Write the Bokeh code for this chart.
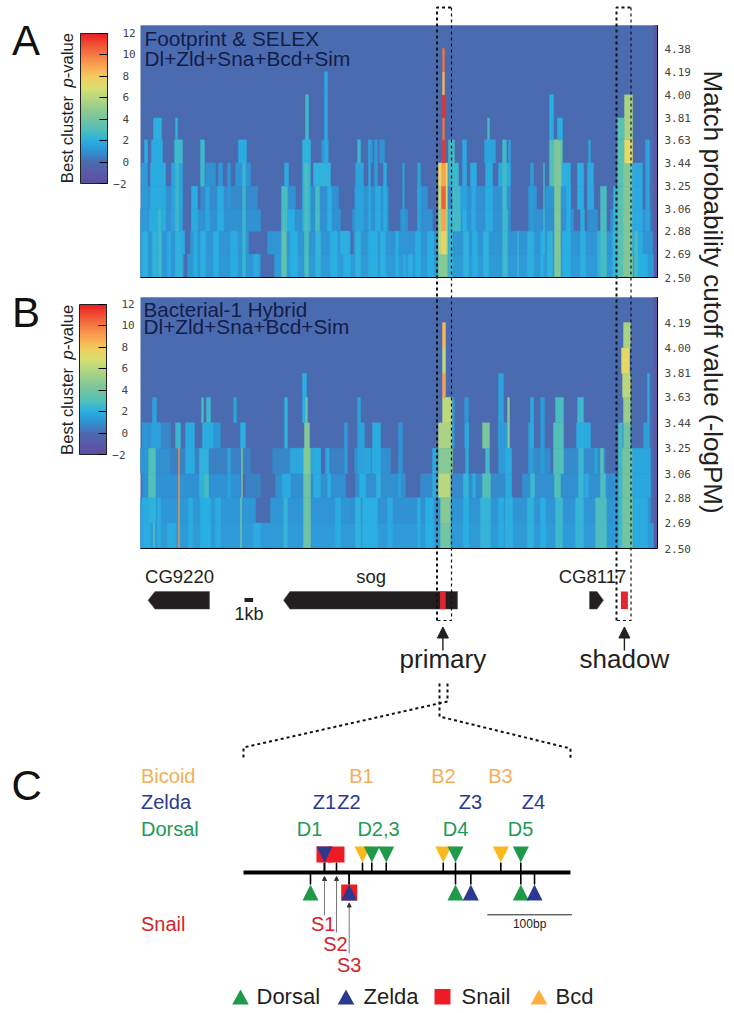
import numpy as np
from bokeh.plotting import figure
from bokeh.embed import file_html
from bokeh.resources import INLINE
from bokeh.core.properties import value
from bokeh.models import (Range1d, LinearColorMapper, ColorBar, FixedTicker, Arrow,
                          NormalHead, ColumnDataSource)

# ---------- data ----------
cutoff_ticks = [2.50, 2.69, 2.88, 3.06, 3.25, 3.44, 3.63, 3.81, 4.00, 4.19, 4.38]
cutoff_edges_a = cutoff_ticks + [4.57]
cutoff_edges_b = cutoff_ticks
score_ticks = [-2, 0, 2, 4, 6, 8, 10, 12]
score_stops = [-2, -1, 0, 1, 2, 3, 4, 5, 6, 7, 8, 9, 10, 11, 12]
score_colors = ["#5B4EA0", "#5A5BA8", "#4B6BB0", "#2F93D3", "#2AAFE3", "#52C0B8", "#74C4A0", "#94CC8E",
                "#B8D77F", "#DBE06E", "#F5C95E", "#F9A350", "#F47C43", "#F05033", "#ED1C24"]

# (start kb, end kb, lowest band, highest band, best cluster score)
a_washes = [
    (0, 4.3, 0, 0, 1.2), (4.7, 12, 0, 0, 1.2), (13.4, 51.3, 0, 0, 1.3),
    (0, 4.4, 1, 1, 1.2), (5, 10.8, 1, 1, 1.1), (12.7, 21, 1, 1, 1.1), (21.3, 51.2, 1, 1, 1.1),
    (0, 3.7, 2, 2, 1), (5.1, 12, 2, 2, 1), (14.1, 20, 2, 2, 1), (21.2, 24.8, 2, 2, 1), (26, 26.7, 2, 2, 1), (27.7, 29.2, 2, 2, 0.9),
    (29.7, 37, 2, 2, 1), (38.8, 43.3, 2, 2, 1), (44.7, 45.7, 2, 2, 0.9), (47, 51, 2, 2, 1),
    (0.2, 4.2, 3, 3, 0.9), (6, 11.7, 3, 3, 0.8), (14.7, 15.5, 3, 3, 1), (16.2, 19.8, 3, 3, 0.9), (21.4, 24.8, 3, 3, 1), (27.7, 28.7, 3, 3, 0.9),
    (30.8, 37, 3, 3, 1), (38.8, 39.6, 3, 3, 1.2), (40.5, 43, 3, 3, 1.2), (44.7, 45.3, 3, 3, 1.2),
]
a_stripes = [
    (0.2, 0.7, 0, 1, 2.1), (1.2, 1.7, 0, 1, 2.2), (1.8, 2.1, 0, 1, 2.6), (2.7, 3, 0, 1, 1.9), (3.5, 4.2, 0, 1, 2.2), (5.3, 5.7, 0, 1, 1.9),
    (6, 6.5, 0, 1, 2.1), (7.3, 7.8, 0, 1, 2), (9, 9.7, 0, 1, 1.9), (10.2, 10.5, 0, 1, 2.4), (11.3, 11.8, 0, 0, 1.8), (15, 15.7, 0, 1, 2),
    (17.5, 18, 0, 1, 2.3), (19, 19.7, 0, 1, 2), (20.3, 21, 0, 0, 2), (21.5, 22, 0, 1, 2.2), (22.8, 23, 0, 1, 2),
    (23, 23.7, 0, 1, 2), (24, 24.5, 0, 1, 2.1), (25.5, 25.8, 0, 1, 2), (26.3, 26.5, 0, 0, 1.9), (26.8, 27.2, 0, 0, 2), (27.5, 28, 0, 1, 2),
    (28.7, 29.3, 0, 1, 2), (32.3, 32.8, 0, 1, 2.2), (33.2, 33.7, 0, 1, 2), (34.3, 34.8, 0, 1, 2.2), (36.2, 36.7, 0, 2, 2.5), (37.7, 37.8, 0, 1, 2.4),
    (38.7, 39.3, 0, 1, 2.1), (40, 40.3, 0, 1, 2), (40.7, 41.2, 0, 1, 2.2), (42.2, 43, 0, 1, 2), (44, 44.5, 0, 1, 2.1), (45.7, 46.3, 0, 1, 2.2),
    (47.2, 47.7, 0, 1, 2.2), (49.5, 50.7, 0, 0, 2),
]
a_peaks = [
    (0.1, 0.7, 2, 4, 1.3), (0.4, 0.7, 5, 5, 1.9), (0.9, 1.2, 2, 2, 2.1),
    (1, 2.5, 2, 4, 1.9), (1.1, 2.2, 5, 5, 1.9), (1.3, 2.1, 6, 6, 2.1), (1.8, 2.0, 2, 2, 2.6),
    (3.1, 4.2, 2, 4, 1.6), (3.4, 4.2, 5, 5, 2.5), (3.5, 3.7, 6, 6, 2.2), (3.5, 3.8, 2, 4, 2.5), (4.1, 4.4, 1, 1, 1.9),
    (5.1, 5.7, 2, 3, 1.9), (6.5, 6.9, 2, 3, 1.7),
    (6, 6.4, 4, 5, 2.5), (6.5, 7.5, 4, 4, 1), (7.8, 8.2, 4, 4, 1.2), (7.7, 8.3, 2, 3, 1.9),
    (8.7, 9, 3, 4, 1.2), (9.5, 11, 4, 4, 1.1), (9.8, 10.6, 5, 5, 1.9), (10.2, 10.5, 2, 4, 2.4),
    (14.1, 14.7, 2, 3, 2.8), (14.1, 14.6, 0, 1, 3.4), (14.4, 14.8, 4, 4, 1.8), (14.7, 15.4, 2, 2, 1.9),
    (16.2, 17, 2, 5, 2.2), (16.5, 16.8, 6, 7, 2.6), (16.4, 16.8, 0, 4, 2.9),
    (17.3, 19, 4, 4, 2.2), (17.5, 17.9, 2, 3, 2.9), (18.1, 18.8, 5, 5, 1.1), (18.4, 18.7, 5, 8, 1.8), (18.7, 19.1, 2, 3, 2),
    (20, 20.9, 1, 1, 2.1), (21.5, 22.3, 2, 4, 1.6), (21.7, 22, 5, 5, 2.4), (22.8, 23, 2, 5, 1.8),
    (23, 23.2, 5, 5, 1.2), (23.4, 23.7, 4, 5, 1.3), (23.9, 24.4, 5, 5, 1), (24.3, 24.6, 2, 4, 1.9), (23.5, 24, 2, 3, 1.9),
    (26.2, 26.4, 2, 4, 1.3), (27.7, 28, 2, 4, 1.6),
    (29.8, 30.7, 4, 4, 7.4), (29.8, 30.7, 3, 3, 6.3), (29.8, 30.7, 2, 2, 5.6), (29.8, 30.7, 1, 1, 6), (29.8, 30.7, 0, 0, 4.6),
    (30.1, 30.5, 3, 3, 10.6), (30.1, 30.5, 2, 2, 9), (30.1, 30.5, 4, 4, 9), (30.1, 30.5, 1, 1, 7.6),
    (30.2, 30.5, 5, 5, 11.5), (30.2, 30.4, 6, 6, 10.2), (30.2, 30.5, 7, 7, 11.6), (30.2, 30.4, 8, 8, 8.6), (30.2, 30.4, 9, 9, 10.2),
    (30.8, 31.4, 5, 5, 2.7), (30.8, 31.8, 4, 4, 2.5), (31.2, 32, 2, 3, 2.7), (30.8, 31.2, 0, 2, 2.5),
    (32.2, 32.6, 4, 5, 1.8), (32, 32.6, 3, 3, 1.6), (32.2, 32.6, 2, 2, 2), (33, 33.6, 4, 4, 1.9), (33.1, 33.5, 2, 3, 1.8),
    (34.4, 35.5, 5, 5, 1.6), (34.5, 35.2, 2, 4, 1.9), (34.7, 34.9, 6, 6, 2.7),
    (35.8, 37, 4, 4, 1.9), (36.2, 36.6, 3, 5, 2.6), (36.8, 37, 5, 5, 1.5),
    (39, 39.3, 2, 4, 1.3), (40.3, 40.4, 1, 4, 2.5),
    (40.9, 42.2, 4, 5, 3), (41.4, 42, 0, 5, 4.4), (40.9, 41.3, 6, 7, 2), (41.7, 42.2, 6, 6, 2), (42.2, 43, 4, 4, 2), (42.6, 43, 2, 3, 2),
    (43.7, 44.3, 3, 4, 2), (44, 44.4, 2, 2, 1.9), (44.8, 45, 5, 5, 1.6), (44.7, 45.3, 3, 4, 1.8),
    (46, 46.6, 0, 3, 2.8), (47.3, 47.7, 0, 3, 2.3),
    (47.7, 48.4, 0, 6, 3.2), (48.3, 49.2, 0, 4, 4.4), (48.4, 49.2, 5, 5, 7.2), (48.4, 49.2, 6, 7, 5.6),
    (49.2, 50.2, 1, 4, 1.8), (49.4, 49.7, 0, 1, 2.8), (50.5, 50.9, 2, 5, 1.6),
]

b_washes = [
    (0, 51.3, 0, 0, 1.3), (0, 11.5, 1, 1, 1.2), (13, 21, 1, 1, 1.1), (21, 30, 1, 1, 1), (30, 51, 1, 1, 1.1),
    (0.2, 10, 2, 2, 1), (10.5, 12, 2, 2, 0.6), (13.5, 20.5, 2, 2, 0.9), (21.5, 26.5, 2, 2, 0.9), (28, 37, 2, 2, 0.8), (38.2, 47, 2, 2, 0.9), (47, 51, 2, 2, 0.9),
    (0, 3, 3, 3, 0.9), (3, 11, 3, 3, 0.6), (13.2, 18, 3, 3, 0.7), (19, 20.5, 3, 3, 0.6), (21.4, 25, 3, 3, 0.9), (39, 41, 3, 3, 0.8), (42, 46.5, 3, 3, 0.8),
    (0.2, 2, 4, 4, 1), (2, 3, 4, 4, 0.7),
]
b_stripes = [
    (0.2, 1, 0, 1, 1.9), (1.3, 1.4, 0, 0, 3.4), (1.7, 2, 0, 1, 1.9), (2.7, 3.5, 0, 0, 1.9), (4.8, 5.2, 0, 1, 1.9), (6, 7, 0, 1, 2), (7.5, 8, 0, 1, 1.9),
    (10, 10.1, 0, 1, 4), (11.3, 12, 0, 0, 1.8), (14.3, 14.7, 0, 1, 2.3), (19.5, 20, 0, 1, 1.9), (21.5, 22, 0, 1, 2.2), (22.2, 23, 0, 1, 2),
    (23, 23.7, 0, 1, 2), (24.7, 25.2, 0, 1, 1.8), (27.7, 28, 0, 1, 1.9), (28.5, 29.3, 0, 1, 2), (32.3, 32.8, 0, 1, 2), (34, 35, 0, 1, 2.3),
    (35.8, 36.3, 0, 1, 1.9), (36.5, 37.2, 0, 1, 2.1), (38.7, 39.3, 0, 1, 2.2), (40, 40.5, 0, 1, 2), (41.5, 42.2, 0, 1, 2.5), (43.5, 44.3, 0, 1, 2.3),
    (45.5, 46.6, 0, 1, 2.9), (49.3, 50.7, 0, 1, 1.9),
]
b_peaks = [
    (1.2, 1.6, 5, 5, 1.6), (0.2, 0.7, 3, 4, 1.2), (1.1, 2, 4, 4, 1.5), (0.8, 1.5, 2, 3, 3), (0.9, 1.5, 1, 1, 2.2),
    (3.5, 4, 4, 4, 2.4), (4.5, 5.4, 3, 4, 1.9), (3.8, 3.9, 0, 3, 9.5),
    (6.1, 6.3, 5, 5, 2.8), (6.6, 7, 5, 5, 2.5), (6.2, 7.3, 4, 4, 1.9), (5.9, 6.8, 2, 3, 2.2), (6.4, 6.8, 2, 2, 2.8), (7.3, 8, 4, 4, 1.2),
    (9.3, 9.6, 5, 5, 1.6), (8.7, 9, 2, 3, 1.5), (10, 10.5, 4, 4, 2), (10.1, 10.2, 2, 3, 4.5),
    (14.4, 14.7, 4, 5, 2.2), (14.2, 15, 2, 2, 1.9), (15, 18, 3, 3, 1.7), (16.2, 16.6, 5, 6, 2), (16.5, 16.7, 5, 5, 3.6),
    (16.3, 17, 0, 3, 3.8), (16.4, 16.9, 3, 4, 4.6), (17.3, 18, 2, 3, 1.9), (18.5, 18.9, 3, 3, 1.8), (18.7, 19, 2, 2, 2),
    (20.4, 20.7, 3, 4, 1.3), (21.7, 22, 5, 5, 1.6), (21.7, 22.4, 3, 4, 1.5), (21.9, 22.5, 2, 2, 2), (22.4, 23, 3, 3, 1.7),
    (23.2, 24, 3, 4, 1.9), (23.6, 24, 2, 2, 2.2), (25.8, 26.2, 3, 4, 1.1), (25.8, 26, 2, 2, 1.6),
    (29.2, 29.7, 2, 3, 1.8),
    (29.8, 31.2, 4, 4, 5.6), (29.8, 31.2, 3, 3, 4.6), (29.8, 31, 2, 2, 6), (30, 31, 1, 1, 4.6), (30, 31, 0, 0, 4), (30.2, 31.2, 5, 5, 6.2),
    (30.2, 30.5, 6, 6, 9), (30.2, 30.5, 7, 7, 6.2), (30.2, 30.5, 8, 8, 8.4), (31.2, 31.4, 4, 5, 1.2),
    (32.4, 32.8, 4, 5, 1.1), (32.5, 32.8, 3, 4, 1.9), (32.3, 32.8, 2, 2, 2.3), (33.2, 33.5, 2, 2, 1.9),
    (34.2, 34.9, 4, 4, 4.2), (34.5, 34.9, 3, 3, 2.7), (34.2, 35, 2, 2, 3),
    (35.8, 36.3, 4, 6, 1.6), (35.8, 36.7, 3, 4, 1.3), (36.7, 36.9, 4, 5, 4.6), (36.5, 37.1, 2, 3, 1.9),
    (38.8, 39.3, 3, 4, 1.4), (39, 39.3, 4, 5, 1.9), (39, 39.4, 2, 2, 2.5), (40, 40.4, 3, 5, 1.3),
    (41.5, 42.3, 5, 5, 2.8), (41.3, 42.3, 3, 4, 3), (41.4, 42, 2, 2, 3),
    (43.7, 44.3, 5, 5, 2.5), (43.6, 45, 4, 4, 1.9), (43.8, 44.3, 2, 3, 2.4), (44.4, 44.8, 2, 2, 1.8),
    (45.4, 45.7, 3, 3, 1.5), (46, 46.3, 3, 3, 3.2), (46, 46.5, 2, 2, 2.9),
    (47.8, 48.2, 0, 4, 2.6), (48.2, 49.2, 0, 3, 4), (48.3, 49, 4, 4, 3.8), (48.3, 49, 5, 5, 5.2), (48.2, 49, 6, 6, 6), (48.1, 48.9, 7, 7, 7.4), (48.3, 49, 8, 8, 5.6),
    (49.2, 51, 2, 3, 1.7), (50.3, 50.9, 4, 4, 1.4), (50.7, 50.9, 5, 6, 1.8),
]

# gene models, kb along the locus: tip, shoulder, far end
gene_names = ["CG9220", "sog", "CG8117"]
gene_tip = [0.75, 14.3, 46.3]
gene_shoulder = [1.45, 14.94, 45.65]
gene_end = [6.9, 31.7, 44.9]
enhancer_names = ["primary", "shadow"]
enhancer_start = [29.96, 48.04]
enhancer_end = [30.52, 48.74]
enhancer_box_start = [29.65, 47.6]
enhancer_box_end = [31.1, 49.05]

# binding sites, bp along the primary enhancer
bcd_up = [140.5, 235.8, 303.8]
dorsal_up = [151.5, 168.5, 250.3, 327.4]
zelda_up = [95.6]
snail_up = [95.6, 109.8]
dorsal_down = [79.1, 250.3, 327.4]
zelda_down = [124.8, 268.4, 343.6]
snail_down = [124.8]
enhancer_length = 386

GREEN, NAVY, RED, GOLD = "#1F9A4A", "#2B3990", "#ED1C24", "#FBB81A"
SANS = "Liberation Sans"

# ---------- one frame over the page ----------
L, R, T, B = 0, 734, 0, 1013
p = figure(width=R - L, height=B - T, output_backend="svg", toolbar_location=None,
           x_range=Range1d(L, R), y_range=Range1d(B, T), min_border=0, outline_line_color=None)
p.axis.visible = False
p.grid.visible = False
p.background_fill_color = "white"
p.border_fill_color = "white"


def scale(px_a, val_a, px_per_unit, lo, hi):
    return Range1d((lo - px_a) / px_per_unit + val_a, (hi - px_a) / px_per_unit + val_a)


p.extra_x_ranges = {"kb": scale(140, 0, 10, L, R), "bp": scale(243, 0, 0.847, L, R)}
p.extra_y_ranges = {
    "a": Range1d(2.50 - (B - 277) / 121.8, 2.50 + (277 - T) / 121.8),
    "b": Range1d(2.50 - (B - 548) / 133.7, 2.50 + (548 - T) / 133.7),
    "cba": Range1d(-2 - (B - 183.5) / 10.75, -2 + (183.5 - T) / 10.75),
    "cbb": Range1d(-2 - (B - 454.5) / 10.75, -2 + (454.5 - T) / 10.75),
}

stops_pos = np.linspace(-2, 12, 256)
rgb = [[int(c[i:i + 2], 16) for c in score_colors] for i in (1, 3, 5)]
palette = ["#%02x%02x%02x" % tuple(int(round(np.interp(v, score_stops, ch))) for ch in rgb) for v in stops_pos]
mapper = LinearColorMapper(palette=palette, low=-2, high=12)


def text(x, y, s, size, color="#231F20", align="left", base="alphabetic", angle=0, style="normal", font=SANS, xr=None, yr=None):
    """base='alphabetic' takes the baseline position; it is drawn as a middle-anchored label."""
    kw = {}
    if xr: kw["x_range_name"] = xr
    if yr: kw["y_range_name"] = yr
    if base == "alphabetic":
        lift = 0.36 * size
        if angle > 0:
            x -= lift
        elif angle < 0:
            x += lift
        else:
            y -= lift
    p.text([x], [y], text=[s], text_font=value(font), text_font_size=f"{size}px", text_color=color,
           text_align=align, text_baseline="middle", angle=angle, text_font_style=style, **kw)


def heat(peaks, edges, yr):
    # flat ground and purple end strip in one piece, then the bands on top
    p.quad(left=[0], right=[51.7], top=[edges[-1]], bottom=[edges[0]], fill_color=palette[int(255 * 2 / 14)],
           line_color=None, x_range_name="kb", y_range_name=yr)
    p.quad(left=[51.3], right=[51.7], top=[edges[-1]], bottom=[edges[0]], fill_color=palette[int(255 * 1 / 14)],
           line_color=None, x_range_name="kb", y_range_name=yr)
    left = [q[0] for q in peaks for r in range(q[2], q[3] + 1)]
    right = [q[1] for q in peaks for r in range(q[2], q[3] + 1)]
    bottom = [edges[r] for q in peaks for r in range(q[2], q[3] + 1)]
    top = [edges[r + 1] for q in peaks for r in range(q[2], q[3] + 1)]
    v = [q[4] for q in peaks for r in range(q[2], q[3] + 1)]
    src = ColumnDataSource(dict(left=left, right=right, top=top, bottom=bottom, v=v))
    mapped = {"field": "v", "transform": mapper}
    p.quad(left="left", right="right", top="top", bottom="bottom", source=src,
           fill_color=mapped, line_color=mapped, line_width=0.4, x_range_name="kb", y_range_name=yr)
    p.segment([0, 51.7], [edges[0], edges[0]], [51.7, 51.7], [edges[0], edges[-1]], line_color="black", line_width=1, x_range_name="kb", y_range_name=yr)
    for t in edges[:-1]:
        text(52.4, t, f"{t:.2f}", 11, "#444444", base="middle", font="DejaVu Sans Mono", xr="kb", yr=yr)


heat(a_washes + a_stripes + a_peaks, cutoff_edges_a, "a")
heat(b_washes + b_stripes + b_peaks, cutoff_edges_b, "b")

# colour bars
for loc_x, top_px, yr in [(80, 33, "cba"), (79, 304, "cbb")]:
    cb = ColorBar(color_mapper=mapper, width=27, height=150, location=(loc_x - L, B - (top_px + 150)),
                  ticker=FixedTicker(ticks=score_ticks), major_label_overrides={-2: " "},
                  major_label_text_font="DejaVu Sans Mono", major_label_text_font_size="11px",
                  major_label_text_color="#444444", major_tick_in=8, major_tick_out=0,
                  major_tick_line_color="black", minor_tick_line_color=None, bar_line_color="#222222",
                  border_line_color=None, background_fill_alpha=0, padding=0, margin=0, label_standoff=15)
    p.add_layout(cb)
    x0 = loc_x
    inner = score_ticks[1:-1]
    p.segment([x0] * len(inner), inner, [x0 + 8] * len(inner), inner, line_color="black", line_width=1, y_range_name=yr)
    text(loc_x + 46, -2, "\u22122", 11, "#444444", align="right", base="middle", font="DejaVu Sans Mono", yr=yr)

# panel letters and titles
text(11.5, 55, "A", 42, "#111111")
text(11.5, 327, "B", 42, "#111111")
text(11, 800, "C", 42, "#111111")
text(144, 45, "Footprint & SELEX", 20.8, "#141C48")
text(144, 65, "Dl+Zld+Sna+Bcd+Sim", 20.8, "#141C48")
text(143, 316, "Bacterial-1 Hybrid", 20.6, "#141C48")
text(143, 333, "Dl+Zld+Sna+Bcd+Sim", 20.8, "#141C48")

# rotated axis titles
for yb in (182.7, 454.5):
    text(73, yb, "Best cluster ", 16.7, angle=np.pi / 2)
    text(73, yb - 95.6, "p", 16.7, angle=np.pi / 2, style="italic")
    text(73, yb - 104.9, "-value", 16.7, angle=np.pi / 2)
text(703, 70, "Match probability cutoff value (-logPM)", 26, angle=-np.pi / 2)

# genes
GY0, GY1, GM = 591, 608.6, 599.8
xs = [[t, s, e, e, s] for t, s, e in zip(gene_tip, gene_shoulder, gene_end)]
ys = [[GM, GY0, GY0, GY1, GY1] for _ in gene_tip]
p.patches(xs, ys, fill_color="#231F20", line_color="#555555", line_width=0.5, x_range_name="kb")
p.quad(left=enhancer_start, right=enhancer_end, top=[GY0] * 2, bottom=[GY1] * 2, fill_color="#E0262E", line_color=None, x_range_name="kb")
for x, s in zip([3.9, 23.06, 45.2], gene_names):
    text(x, 583, s, 18.5, align="center", xr="kb")
p.quad(left=[10.4], right=[11.26], top=[597.4], bottom=[601.6], fill_color="#231F20", line_color=None, x_range_name="kb")
text(10.84, 620, "1kb", 18, align="center", xr="kb")

# dashed enhancer boxes spanning both panels
for x0, x1 in zip(enhancer_box_start, enhancer_box_end):
    p.line([x0, x0, x1], [620, 7, 7], line_color="#111111", line_width=2, line_dash="3 3", x_range_name="kb")
    p.line([x1, x1, x0], [7, 620, 620], line_color="#111111", line_width=1.2, line_dash="3 3", x_range_name="kb")
for s, e, name in zip(enhancer_start, enhancer_end, enhancer_names):
    c = (s + e) / 2
    p.add_layout(Arrow(end=NormalHead(size=11, fill_color="#231F20", line_color="#231F20"), x_start=c, y_start=650, x_end=c, y_end=626.5,
                       line_color="#231F20", line_width=1.4, x_range_name="kb"))
    text(c, 668, name, 26, align="center", xr="kb")

# zoom connector
p.line([447, 447, 243, 243], [683, 701, 747, 758], line_color="#111111", line_width=2, line_dash="3 3")
p.line([439, 439, 570, 570], [683, 716, 748, 758], line_color="#111111", line_width=2, line_dash="3 3")

# C: row labels
text(140.5, 775, "Bicoid", 20, "#F2B05C", base="middle")
text(140.5, 801, "Zelda", 20, NAVY, base="middle")
text(140.5, 828, "Dorsal", 20, "#1E9A5A", base="middle")
text(140.5, 923, "Snail", 20, "#D5232A", base="middle")
for s, x in zip(["B1", "B2", "B3"], [361, 443, 500]):
    text(x, 775, s, 20, "#F2B05C", align="center", base="middle")
for s, x in zip(["Z1", "Z2", "Z3", "Z4"], [324, 348.5, 470, 533]):
    text(x, 801, s, 20, NAVY, align="center", base="middle")
for s, x in zip(["D1", "D2,3", "D4", "D5"], [309, 378, 455, 520]):
    text(x, 828, s, 20, "#1E9A5A", align="center", base="middle")
for s, x, y in zip(["S1", "S2", "S3"], [322.7, 335, 348.7], [923, 943, 964]):
    text(x, y, s, 20, "#D5232A", align="center", base="middle")

# C: enhancer line, stalks and site marks
HW = 8 / 0.847
up_all = snail_up + zelda_up + bcd_up + dorsal_up
down_all = dorsal_down + zelda_down + snail_down
p.segment(up_all, [862] * len(up_all), up_all, [872] * len(up_all), line_color="black", line_width=1.6, x_range_name="bp")
p.segment(down_all, [872] * len(down_all), down_all, [884] * len(down_all), line_color="black", line_width=1.6, x_range_name="bp")
p.line([0, enhancer_length], [872, 872], line_color="black", line_width=4, x_range_name="bp")


def squares(sites, y0, y1, color=RED):
    p.quad(left=[b - HW for b in sites], right=[b + HW for b in sites], top=[y0] * len(sites), bottom=[y1] * len(sites),
           fill_color=color, line_color=None, x_range_name="bp")


def tris(sites, y_base, y_tip, color):
    p.patches([[b - HW, b + HW, b] for b in sites], [[y_base, y_base, y_tip] for _ in sites],
              fill_color=color, line_color=None, x_range_name="bp")


squares(snail_up, 846, 862)
squares(snail_down, 884, 900)
tris(bcd_up, 846, 862, GOLD)
tris(dorsal_up, 846, 862, GREEN)
tris(zelda_up, 846, 862, NAVY)
tris(dorsal_down, 900, 884, GREEN)
tris(zelda_down, 900, 884, NAVY)

# C: thin pointer arrows from snail labels
for b, y0, y1 in [(snail_up[0], 915, 876), (snail_up[1], 932, 876), (snail_down[0], 953, 902.5)]:
    p.add_layout(Arrow(end=NormalHead(size=4, fill_color="#333333", line_color="#333333"), x_start=b, y_start=y0, x_end=b, y_end=y1,
                       line_color="#555555", line_width=0.8, x_range_name="bp"))

# C: scale bar
p.line([287.8, 387.8], [914.3, 914.3], line_color="#222222", line_width=1, x_range_name="bp")
text(337.8, 923.5, "100bp", 12, "#222222", align="center", base="middle", xr="bp")

# C: key
LEG_Y0, LEG_Y1 = 989, 1004
for x, color, shape, name, tx in [(240, GREEN, "t", "Dorsal", 256), (345.5, NAVY, "t", "Zelda", 363),
                                  (442, RED, "s", "Snail", 461), (538.5, "#FBB040", "t", "Bcd", 555)]:
    if shape == "t":
        p.patches([[x - 8.3, x + 8.3, x]], [[LEG_Y1, LEG_Y1, LEG_Y0]], fill_color=color, line_color=None)
    else:
        p.quad(left=[x - 8], right=[x + 8], top=[LEG_Y0 - 0.5], bottom=[LEG_Y1], fill_color=color, line_color=None)
    text(tx, 996, name, 22, base="middle")

open("out.html", "w").write(file_html(p, INLINE))
